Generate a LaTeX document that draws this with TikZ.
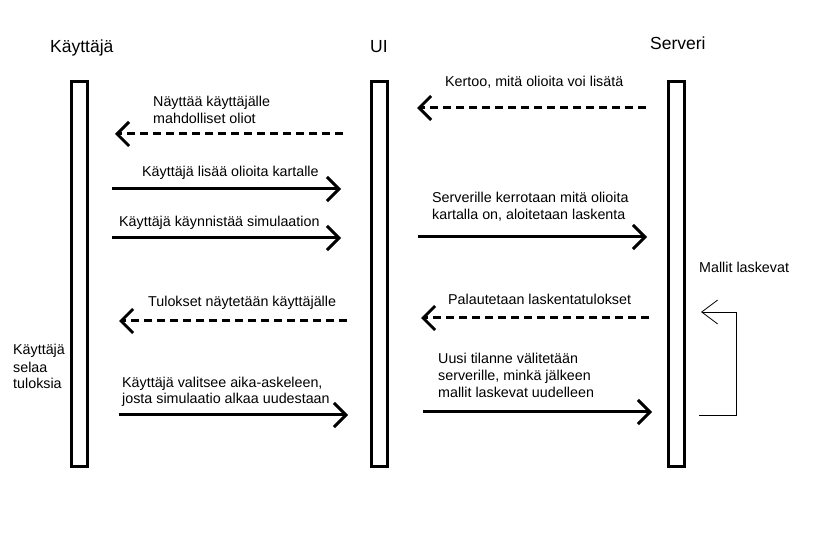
\documentclass[tikz,border=0pt]{standalone}
\usepackage{fontspec}
\setmainfont{Liberation Sans}
\usetikzlibrary{arrows.meta}

\tikzset{
  bar/.style={draw, line width=3pt, minimum width=16pt, minimum height=385pt, inner sep=0pt},
  msg/.style={line width=3pt, -{Straight Barb[length=12pt,width=24pt]}},
  reply/.style={msg, dash pattern=on 8pt off 5pt},
  self/.style={line width=0.8pt, -{Straight Barb[length=16pt,width=24pt]}},
  lbl/.style={anchor=base west, inner sep=0pt, font=\fontsize{14.3}{17}\selectfont, align=left},
  title/.style={anchor=base west, inner sep=0pt, font=\fontsize{17.5}{21}\selectfont}
}

\begin{document}
\begin{tikzpicture}[x=1pt, y=-1pt]
    \useasboundingbox (0,0) rectangle (814,534);

    % lifelines
    \node[title] (tk) at (50,53) {Käyttäjä};
    \node[title] (tu) at (370,53) {UI};
    \node[title] (ts) at (650,50) {Serveri};
    \node[bar] (kayttaja) at (79.5,274) {};
    \node[bar] (ui) at (379.5,274) {};
    \node[bar] (serveri) at (676,274) {};

    % UI -> Kayttaja, oliot
    \coordinate (a1) at (343,134);
    \coordinate (b1) at (115,134);
    \draw[reply] (a1) -- (b1);
    \node[lbl] (l1) at (153,124) {Näyttää käyttäjälle\\mahdolliset oliot};

    % Kayttaja -> UI
    \coordinate (a2) at (112,189);
    \coordinate (b2) at (341,189);
    \draw[msg] (a2) -- (b2);
    \node[lbl] (l2) at (142,177) {Käyttäjä lisää olioita kartalle};

    \coordinate (a3) at (112,238);
    \coordinate (b3) at (341,238);
    \draw[msg] (a3) -- (b3);
    \node[lbl] (l3) at (119,227) {Käyttäjä käynnistää simulaation};

    % Serveri -> UI
    \coordinate (a4) at (646,108);
    \coordinate (b4) at (417,108);
    \draw[reply] (a4) -- (b4);
    \node[lbl] (l4) at (445,87) {Kertoo, mitä olioita voi lisätä};

    % UI -> Serveri
    \coordinate (a5) at (418,237);
    \coordinate (b5) at (647,237);
    \draw[msg] (a5) -- (b5);
    \node[lbl] (l5) at (432,220) {Serverille kerrotaan mitä olioita\\kartalla on, aloitetaan laskenta};

    \node[lbl] (l6) at (699,273) {Mallit laskevat};

    \coordinate (a7) at (649,318);
    \coordinate (b7) at (421,318);
    \draw[reply] (a7) -- (b7);
    \node[lbl] (l7) at (448,305) {Palautetaan laskentatulokset};

    \coordinate (a8) at (423,412);
    \coordinate (b8) at (652,412);
    \draw[msg] (a8) -- (b8);
    \node[lbl] (l8) at (438,398) {Uusi tilanne välitetään\\serverille, minkä jälkeen\\mallit laskevat uudelleen};

    % self loop
    \coordinate (a9) at (699,415);
    \coordinate (c9) at (736,312);
    \coordinate (b9) at (701,312);
    \draw[self] (a9) -| (c9) -- (b9);

    % UI -> Kayttaja, tulokset
    \coordinate (a10) at (347,321);
    \coordinate (b10) at (119,321);
    \draw[reply] (a10) -- (b10);
    \node[lbl] (l10) at (148,307) {Tulokset näytetään käyttäjälle};

    \coordinate (a11) at (119,415);
    \coordinate (b11) at (348,415);
    \draw[msg] (a11) -- (b11);
    \node[lbl] (l11) at (122,404) {Käyttäjä valitsee aika-askeleen,\\josta simulaatio alkaa uudestaan};

    \node[lbl] (l12) at (13,389) {Käyttäjä\\selaa\\tuloksia};
\end{tikzpicture}
\end{document}
